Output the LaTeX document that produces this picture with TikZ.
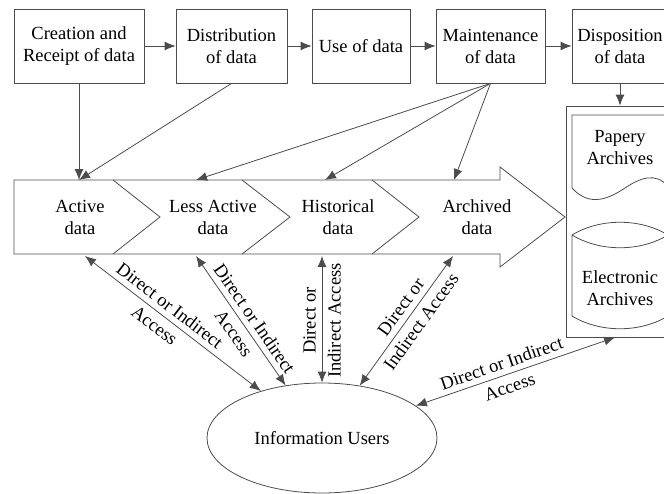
\documentclass[tikz,border=0pt]{standalone}
\usepackage{fontspec}
\setmainfont{Liberation Serif}
\newfontfamily\tmsfont{Liberation Serif}
\usetikzlibrary{arrows.meta,shapes.geometric}
\begin{document}
\begin{tikzpicture}[x=1pt,y=-1pt,
  font=\tmsfont\fontsize{18.5}{22}\selectfont,
  ln/.style={draw=black!70, line width=0.8pt},
  box/.style={ln, rectangle, minimum height=74pt, inner sep=2pt, align=center},
  arr/.style={ln, -{Latex[length=11pt,width=9pt]}},
  darr/.style={ln, {Latex[length=11pt,width=9pt]}-{Latex[length=11pt,width=9pt]}},
  lbl/.style={align=center, inner sep=1pt, font=\tmsfont\fontsize{18.5}{25}\selectfont},
  txt/.style={align=center, inner sep=1pt}]
\useasboundingbox (0,0) rectangle (664,493);
\clip (0,0) rectangle (664,493);
% top boxes
\node[box, minimum width=130pt] (b1) at (79,46) {Creation and\\Receipt of data};
\node[box, minimum width=111pt] (b2) at (231.5,46) {Distribution\\of data};
\node[box, minimum width=98pt] (b3) at (361,46) {Use of data};
\node[box, minimum width=109pt] (b4) at (490.5,46) {Maintenance\\of data};
\node[box, minimum width=96pt] (b5) at (620,46) {Disposition\\of data};
\draw[arr] (b1) -- (b2);
\draw[arr] (b2) -- (b3);
\draw[arr] (b3) -- (b4);
\draw[arr] (b4) -- (b5);
% band arrow
\draw[ln] (14,180) -- (500,180) -- (500,167) -- (565,217) -- (500,267) -- (500,254) -- (14,254) -- cycle;
\draw[ln] (113,180) -- (160,217) -- (113,254);
\draw[ln] (242,180) -- (290,217) -- (242,254);
\draw[ln] (372,180) -- (419,217) -- (372,254);
\node[txt] (act) at (80,217) {Active\\data};
\node[txt] (less) at (213,217) {Less Active\\data};
\node[txt] (hist) at (338,217) {Historical\\data};
\node[txt] (archd) at (477,217) {Archived\\data};
\coordinate (actT) at (79,180);
\coordinate (lessT) at (196,180);
\coordinate (histT) at (325,180);
\coordinate (archT) at (454,180);
\coordinate (actB) at (85,256);
\coordinate (lessB) at (196,256);
\coordinate (histB) at (322,256);
\coordinate (archB) at (453,256);
\draw[arr] (b1.south) -- (actT);
\draw[arr] (b2.south) -- (actT);
\draw[arr] (b4.south) -- (lessT);
\draw[arr] (b4.south) -- (histT);
\draw[arr] (b4.south) -- (archT);
% archives
\node[ln, rectangle, minimum width=108pt, minimum height=231pt, inner sep=0pt] (arch) at (620,221.5) {};
\draw[ln] (572,188) -- (572,115) -- (668,115) -- (668,186)
  .. controls (655,172) and (640,178) .. (625,188)
  .. controls (610,198) and (590,208) .. (572,188);
\draw[ln] (572,235) .. controls (600,218) and (640,218) .. (668,235)
  .. controls (640,252) and (600,252) .. (572,235) -- (572,316)
  .. controls (600,333) and (640,333) .. (668,316) -- (668,235);
\node[txt] (pap) at (620,148) {Papery\\Archives};
\node[txt] (ele) at (620,288) {Electronic\\Archives};
\draw[arr] (b5.south) -- (arch.north);
% users
\node[ln, ellipse, minimum width=230pt, minimum height=110pt, inner sep=0pt] (users) at (322,438) {Information Users};
\draw[darr] (actB) -- (users) node[lbl, pos=0.44, sloped] (l1) {Direct or Indirect\\Access};
\draw[darr] (lessB) -- (users) node[lbl, pos=0.54, sloped] (l2) {Direct or Indirect\\Access};
\draw[darr] (histB) -- (users) node[lbl, pos=0.51, rotate=90] (l3) {Direct or\\Indirect Access};
\draw[darr] (archB) -- (users) node[lbl, pos=0.45, sloped] (l4) {Direct or\\Indirect Access};
\draw[darr] ([xshift=-5pt]arch.south) -- (users) node[lbl, pos=0.55, sloped] (l5) {Direct or Indirect\\Access};
\end{tikzpicture}
\end{document}
